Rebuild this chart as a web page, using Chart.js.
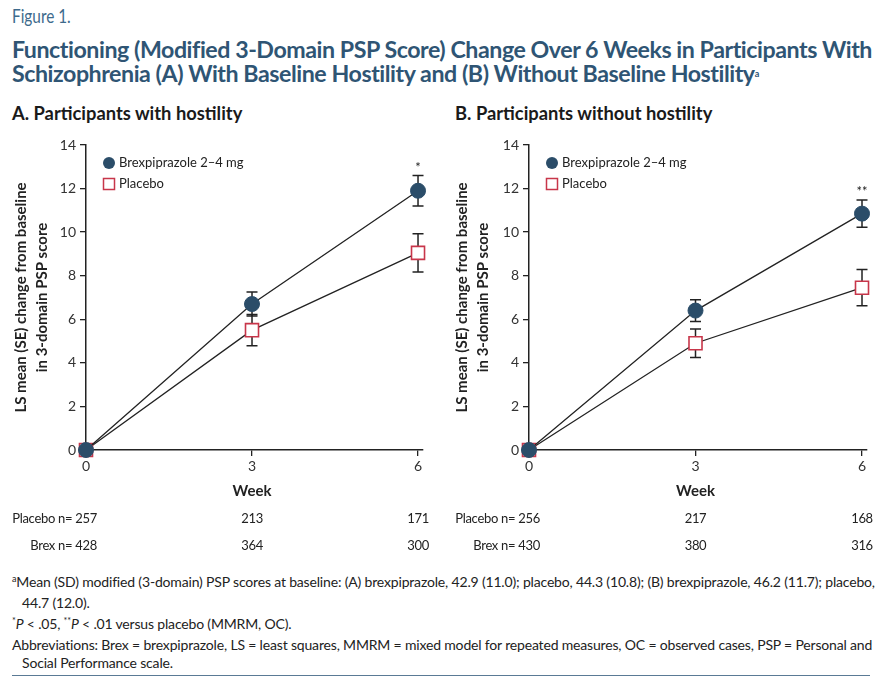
<!DOCTYPE html>
<html>
<head>
<meta charset="utf-8">
<script src="https://cdn.jsdelivr.net/npm/chart.js@4.4.1/dist/chart.umd.min.js"></script>
<style>
  body { margin: 0; background: #fff; }
  #page { position: relative; width: 883px; height: 688px; overflow: hidden; font-family: Lato, "Open Sans", sans-serif; color: #222; }
  .abs { position: absolute; white-space: nowrap; transform-origin: 0 0; }
  .fig { left: 12px; top: 5px; font-size: 18.5px; color: #3d6a8c; transform: scaleX(0.83); }
  .title { left: 12px; font-size: 23.2px; font-weight: bold; color: #2f5574; letter-spacing: -0.45px; }
  .panel { top: 101px; font-size: 19.5px; font-weight: bold; color: #1a1a1a; transform: scaleX(0.94); }
  .foot { left: 12px; font-size: 14px; letter-spacing: -0.17px; color: #222; }
  .foot i { font-style: italic; }
  sup { font-size: 9px; vertical-align: 5px; line-height: 0; }
  canvas { position: absolute; top: 130px; }
  #rule { position: absolute; left: 12px; width: 858px; top: 675px; height: 0; border-top: 1.5px solid #5a7a95; }
</style>
</head>
<body>
<div id="page">
  <div class="abs fig">Figure 1.</div>
  <div class="abs title" style="top:35px">Functioning (Modified 3-Domain PSP Score) Change Over 6 Weeks in Participants With</div>
  <div class="abs title" style="top:59px">Schizophrenia (A) With Baseline Hostility and (B) Without Baseline Hostility<sup>a</sup></div>
  <div class="abs panel" style="left:12px">A. Participants with hostility</div>
  <div class="abs panel" style="left:455px">B. Participants without hostility</div>

  <canvas id="chartA" width="441" height="430" style="left:0px"></canvas>
  <canvas id="chartB" width="442" height="430" style="left:441px"></canvas>

  <div class="abs foot" style="top:573px"><sup>a</sup>Mean (SD) modified (3-domain) PSP scores at baseline: (A) brexpiprazole, 42.9 (11.0); placebo, 44.3 (10.8); (B) brexpiprazole, 46.2 (11.7); placebo,</div>
  <div class="abs foot" style="top:594px; left:22px">44.7 (12.0).</div>
  <div class="abs foot" style="top:615px"><sup>*</sup><i>P</i> &lt; .05, <sup>**</sup><i>P</i> &lt; .01 versus placebo (MMRM, OC).</div>
  <div class="abs foot" style="top:636px">Abbreviations: Brex = brexpiprazole, LS = least squares, MMRM = mixed model for repeated measures, OC = observed cases, PSP = Personal and</div>
  <div class="abs foot" style="top:654px; left:22px">Social Performance scale.</div>
  <div id="rule"></div>
</div>

<script>
// Data
const weeks = [0, 3, 6];
const yTicks = [0, 2, 4, 6, 8, 10, 12, 14];

const brexA = [0, 6.7, 11.9];
const brexSeA = [0, 0.55, 0.7];
const placeboA = [0, 5.5, 9.05];
const placeboSeA = [0, 0.72, 0.88];
const sigA = ['', '', '*'];
const nPlaceboA = [257, 213, 171];
const nBrexA = [428, 364, 300];

const brexB = [0, 6.4, 10.85];
const brexSeB = [0, 0.5, 0.62];
const placeboB = [0, 4.9, 7.45];
const placeboSeB = [0, 0.65, 0.83];
const sigB = ['', '', '**'];
const nPlaceboB = [256, 217, 168];
const nBrexB = [430, 380, 316];

// Styles
const BREX_COLOR = '#2b4d69';
const PLACEBO_COLOR = '#c8364a';
const INK = '#222';
const FONT = 'Lato, "Open Sans", sans-serif';

const toPoints = vals => vals.map((v, i) => ({ x: weeks[i], y: v }));

// Error bars, significance marks, legend, axis titles, n table
const extrasPlugin = {
    id: 'extras',
    beforeDatasetsDraw(chart, args, opts) {
        const ctx = chart.ctx;
        const x = chart.scales.x, y = chart.scales.y;
        ctx.save();
        ctx.strokeStyle = INK;
        ctx.lineWidth = 1.5;
        chart.data.datasets.forEach((ds, di) => {
            const se = opts.se[di];
            ds.data.forEach((p, i) => {
                if (!se[i]) return;
                const px = x.getPixelForValue(p.x);
                const top = y.getPixelForValue(p.y + se[i]);
                const bot = y.getPixelForValue(p.y - se[i]);
                ctx.beginPath();
                ctx.moveTo(px, top); ctx.lineTo(px, bot);
                ctx.moveTo(px - 5.5, top); ctx.lineTo(px + 5.5, top);
                ctx.moveTo(px - 5.5, bot); ctx.lineTo(px + 5.5, bot);
                ctx.stroke();
            });
        });
        ctx.restore();
    },
    afterDraw(chart, args, opts) {
        const ctx = chart.ctx;
        const x = chart.scales.x, y = chart.scales.y;
        const area = chart.chartArea;
        ctx.save();

        // significance
        const brex = chart.data.datasets[0].data;
        ctx.fillStyle = INK;
        ctx.font = '13px ' + FONT;
        ctx.textAlign = 'center';
        ctx.textBaseline = 'alphabetic';
        opts.sig.forEach((s, i) => {
            if (!s) return;
            const top = y.getPixelForValue(brex[i].y + opts.se[0][i]);
            ctx.fillText(s, x.getPixelForValue(brex[i].x), top - 4);
        });

        // legend
        const lx = area.left + 23, ly = area.top + 18;
        ctx.fillStyle = BREX_COLOR;
        ctx.beginPath(); ctx.arc(lx, ly, 6, 0, Math.PI * 2); ctx.fill();
        ctx.fillStyle = '#fff';
        ctx.strokeStyle = PLACEBO_COLOR;
        ctx.lineWidth = 1.5;
        ctx.fillRect(lx - 5.5, ly + 15.5, 11, 11);
        ctx.strokeRect(lx - 5.5, ly + 15.5, 11, 11);
        ctx.fillStyle = INK;
        ctx.font = '13px ' + FONT;
        ctx.textAlign = 'left';
        ctx.textBaseline = 'middle';
        ctx.fillText('Brexpiprazole 2\u20134 mg', lx + 10, ly);
        ctx.fillText('Placebo', lx + 10, ly + 21);

        // y title
        ctx.save();
        ctx.translate(0, (area.top + area.bottom) / 2);
        ctx.rotate(-Math.PI / 2);
        ctx.textAlign = 'center';
        ctx.font = 'bold 15px ' + FONT;
        ctx.fillText('LS mean (SE) change from baseline', 0, 21);
        ctx.fillText('in 3-domain PSP score', 0, 42);
        ctx.restore();

        // x title
        ctx.textAlign = 'center';
        ctx.font = 'bold 15px ' + FONT;
        ctx.fillText('Week', x.getPixelForValue(3), area.bottom + 41);

        // n table
        ctx.font = '13px ' + FONT;
        if ('letterSpacing' in ctx) ctx.letterSpacing = '-0.3px';
        const rows = [['Placebo n= ', opts.nPlacebo, 69], ['Brex n= ', opts.nBrex, 96]];
        rows.forEach(([label, ns, dy]) => {
            ns.forEach((n, i) => {
                const px = x.getPixelForValue(weeks[i]);
                if (i === 0) {
                    ctx.textAlign = 'right';
                    ctx.fillText(label + n, px + 11, area.bottom + dy);
                } else {
                    ctx.textAlign = 'center';
                    ctx.fillText(String(n), px, area.bottom + dy);
                }
            });
        });
        ctx.restore();
    }
};

function makeChart(id, brex, brexSe, placebo, placeboSe, sig, nPlacebo, nBrex, leftWidth, rightPad) {
    return new Chart(document.getElementById(id), {
        type: 'line',
        data: {
            datasets: [{
                label: 'Brexpiprazole 2\u20134 mg',
                data: toPoints(brex),
                borderColor: INK,
                borderWidth: 1.3,
                pointStyle: 'circle',
                pointRadius: 7.5,
                pointBackgroundColor: BREX_COLOR,
                pointBorderColor: BREX_COLOR,
                pointBorderWidth: 1,
                clip: false
            }, {
                label: 'Placebo',
                data: toPoints(placebo),
                borderColor: INK,
                borderWidth: 1.3,
                pointStyle: 'rect',
                pointRadius: 9.2,
                pointBackgroundColor: '#fff',
                pointBorderColor: PLACEBO_COLOR,
                pointBorderWidth: 1.6,
                clip: false
            }]
        },
        options: {
            responsive: false,
            animation: false,
            events: [],
            layout: { padding: { top: 15, right: rightPad, left: 0, bottom: 0 } },
            plugins: {
                legend: { display: false },
                tooltip: { enabled: false },
                extras: { se: [brexSe, placeboSe], sig, nPlacebo, nBrex }
            },
            scales: {
                x: {
                    type: 'linear',
                    min: 0,
                    max: 6.09,
                    afterBuildTicks: s => { s.ticks = weeks.map(v => ({ value: v })); },
                    afterFit: s => { s.height = 110; },
                    grid: { drawOnChartArea: false, drawTicks: true, tickLength: 6, color: INK, lineWidth: 1.3 },
                    border: { color: INK, width: 1.5 },
                    ticks: { color: '#333', font: { family: FONT, size: 14 }, padding: 2 }
                },
                y: {
                    min: 0,
                    max: 14,
                    afterBuildTicks: s => { s.ticks = yTicks.map(v => ({ value: v })); },
                    afterFit: s => { s.width = leftWidth; },
                    grid: { drawOnChartArea: false, drawTicks: true, tickLength: 6, color: INK, lineWidth: 1.3 },
                    border: { color: INK, width: 1.5 },
                    ticks: { color: '#333', font: { family: FONT, size: 14 }, padding: 4 }
                }
            }
        },
        plugins: [extrasPlugin]
    });
}

makeChart('chartA', brexA, brexSeA, placeboA, placeboSeA, sigA, nPlaceboA, nBrexA, 86, 18);
makeChart('chartB', brexB, brexSeB, placeboB, placeboSeB, sigB, nPlaceboB, nBrexB, 88, 16);
</script>
</body>
</html>
